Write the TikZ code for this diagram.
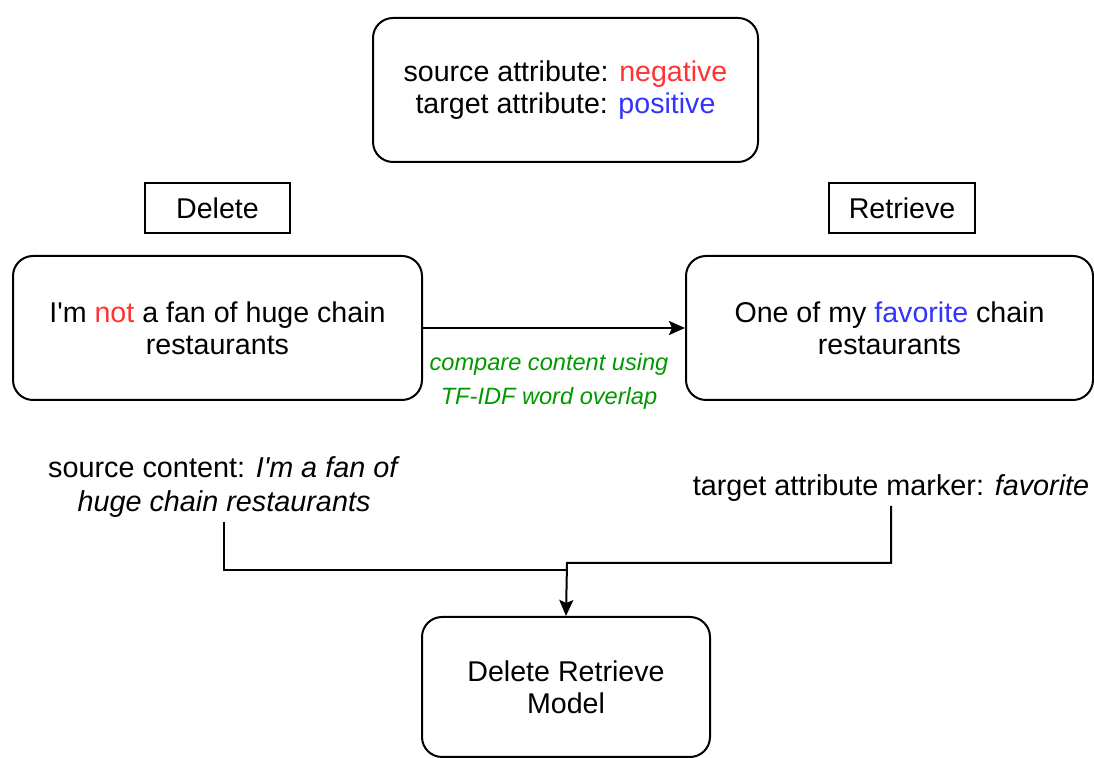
\documentclass[tikz,border=0pt]{standalone}
\usepackage{fontspec}
\setmainfont{Liberation Sans}[Ligatures=TeXOff]
\usetikzlibrary{arrows.meta}
\definecolor{negred}{RGB}{255,51,51}
\definecolor{posblue}{RGB}{51,51,255}
\definecolor{cmpgreen}{RGB}{0,153,0}
\tikzset{
  rbox/.style={draw, line width=1pt, rounded corners=10pt, align=center, inner sep=0pt,
    font=\fontsize{14.3}{16}\selectfont},
  sbox/.style={draw, line width=1pt, align=center, inner sep=0pt,
    font=\fontsize{14.3}{16}\selectfont},
  lbl/.style={align=center, inner sep=2pt, font=\fontsize{14.4}{17}\selectfont},
  conn/.style={line width=1pt},
  arr/.style={line width=1pt, -{Stealth[length=8pt,width=7pt,inset=1.5pt]}}
}
\begin{document}
\begin{tikzpicture}[x=0.5pt,y=-0.5pt]
\useasboundingbox (0,0) rectangle (1094,758);
\node[rbox, minimum width=385*0.5pt, minimum height=144*0.5pt] (top) at (565.5,90)
  {source attribute: \textcolor{negred}{negative}\\target attribute: \textcolor{posblue}{positive}};
\node[sbox, minimum width=145*0.5pt, minimum height=50*0.5pt] (del) at (217.5,208) {Delete};
\node[sbox, minimum width=146*0.5pt, minimum height=50*0.5pt] (ret) at (902,208) {Retrieve};
\node[rbox, minimum width=409*0.5pt, minimum height=144*0.5pt] (left) at (217.5,328)
  {I'm \textcolor{negred}{not} a fan of huge chain\\restaurants};
\node[rbox, minimum width=407*0.5pt, minimum height=144*0.5pt] (right) at (889.5,328)
  {One of my \textcolor{posblue}{favorite} chain\\restaurants};
\node[align=center, inner sep=0pt, text=cmpgreen, font=\fontsize{11.8}{17}\selectfont\itshape] (cmp) at (549,381)
  {compare content using\\TF-IDF word overlap};
\node[lbl] (src) at (224,487) {source content: \textit{I'm a fan of}\\\textit{huge chain restaurants}};
\node[lbl] (tgt) at (891,488) {target attribute marker: \textit{favorite}};
\node[rbox, minimum width=288*0.5pt, minimum height=140*0.5pt] (model) at (566,687)
  {Delete Retrieve\\Model};
\coordinate (mL) at (567,570);
\coordinate (mR) at (567,563);
\draw[arr] (left.east) -- (right.west);
\draw[conn] (src.south) |- (mL);
\draw[arr] (tgt.south) |- (mR) -- (model.north);
\end{tikzpicture}
\end{document}
